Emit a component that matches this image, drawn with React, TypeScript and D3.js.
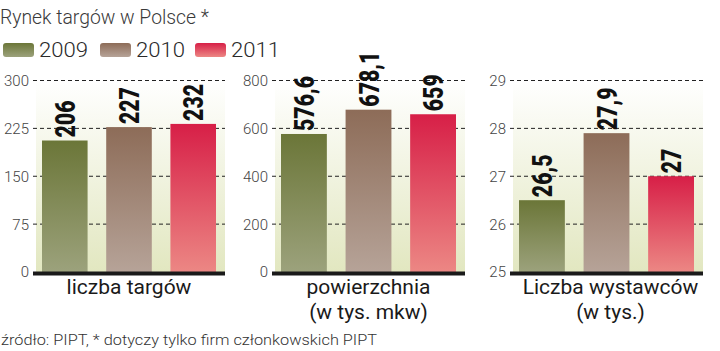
import React from "react";
import * as d3 from "d3";

const years = ["2009", "2010", "2011"];
const panelTitles = [["liczba targów"], ["powierzchnia", "(w tys. mkw)"], ["Liczba wystawców", "(w tys.)"]];
const targi = [206, 227, 232];
const powierzchnia = [576.6, 678.1, 659];
const wystawcy = [26.5, 27.9, 27];
const targiLabels = ["206", "227", "232"];
const powLabels = ["576,6", "678,1", "659"];
const wystLabels = ["26,5", "27,9", "27"];
const targiTicks = [0, 75, 150, 225, 300];
const powTicks = [0, 200, 400, 600, 800];
const wystTicks = [25, 26, 27, 28, 29];
const title = "Rynek targów w Polsce *";
const source = "źródło: PIPT, * dotyczy tylko firm członkowskich PIPT";

const barColors = [
  ["#6b7638", "#9ca27c"],
  ["#8d6c58", "#b6a398"],
  ["#d71f47", "#ec8784"],
];

const panels = [
  { values: targi, labels: targiLabels, ticks: targiTicks, title: panelTitles[0], x0: 33, x1: 225 },
  { values: powierzchnia, labels: powLabels, ticks: powTicks, title: panelTitles[1], x0: 272, x1: 465 },
  { values: wystawcy, labels: wystLabels, ticks: wystTicks, title: panelTitles[2], x0: 510, x1: 703 },
];

const FONT = "Roboto, 'Noto Sans', sans-serif";

export default function App() {
  const W = 720, H = 351;
  const yTop = 80.5, yBot = 272;
  return (
    <svg width={W} height={H} style={{ position: "absolute", left: 0, top: 0, background: "#fff" }} fontFamily={FONT}>
      <defs>
        {barColors.map((c, i) => (
          <linearGradient key={i} id={`bar${i}`} x1="0" y1="0" x2="0" y2="1">
            <stop offset="0" stopColor={c[0]} />
            <stop offset="1" stopColor={c[1]} />
          </linearGradient>
        ))}
        <linearGradient id="bg" x1="0" y1="0" x2="0" y2="1">
          <stop offset="0" stopColor="#ffffff" />
          <stop offset="1" stopColor="#e2e7c0" />
        </linearGradient>
      </defs>

      <text x={0} y={24} fontSize={21} fill="#3a3a3a" fontWeight={300} textLength={209} lengthAdjust="spacingAndGlyphs">{title}</text>

      {years.map((yr, i) => {
        const sx = [3, 100, 195][i];
        return (
          <g key={yr}>
            <rect x={sx} y={43} width={31} height={14} rx={3} fill={`url(#bar${i})`} />
            <text x={sx + 36} y={57} fontSize={21} fill="#2a2a2a" fontWeight={300} textLength={49} lengthAdjust="spacingAndGlyphs">{yr}</text>
          </g>
        );
      })}

      {panels.map((p, pi) => {
        const y = d3.scaleLinear().domain([p.ticks[0], p.ticks[p.ticks.length - 1]]).range([yBot, yTop]);
        const x = d3.scaleBand().domain(years).range([p.x0 + 9, p.x1 - 9]).paddingInner(0.29).paddingOuter(0);
        const cx = (p.x0 + p.x1) / 2 + (pi === 2 ? 4 : 0);
        return (
          <g key={pi}>
            <rect x={p.x0 + 3} y={yTop} width={p.x1 - p.x0 - 3} height={yBot - yTop} fill="url(#bg)" />
            {p.ticks.map((t) => (
              <g key={t}>
                {t !== p.ticks[0] && (
                  <line x1={p.x0} x2={p.x1} y1={y(t)} y2={y(t)} stroke="#222" strokeWidth={1} strokeDasharray="4,3" />
                )}
                <text x={p.x0 - 4} y={y(t)} dy="0.36em" textAnchor="end" fontSize={15} fontWeight={300} fill="#444">{t}</text>
              </g>
            ))}
            {p.values.map((v, i) => (
              <rect key={i} x={x(years[i])} y={y(v)} width={x.bandwidth()} height={yBot - y(v)} fill={`url(#bar${i})`} />
            ))}
            {p.values.map((v, i) => (
              <text
                key={"l" + i}
                transform={`translate(${x(years[i])! + x.bandwidth() / 2},${y(v) - 3}) rotate(-90) scale(0.76,1)`}
                dy="0.36em"
                fontSize={28}
                fontWeight={900}
                fill="#111"
              >
                {p.labels[i]}
              </text>
            ))}
            <line x1={p.x0} x2={p.x1} y1={yBot + 1.5} y2={yBot + 1.5} stroke="#1a1a1a" strokeWidth={4} />
            {p.title.map((t, li) => (
              <text key={li} x={cx} y={294 + li * 25} textAnchor="middle" fontSize={21} fill="#1a1a1a">{t}</text>
            ))}
          </g>
        );
      })}

      <text x={1} y={345} fontSize={14} fill="#333" fontWeight={300} textLength={376} lengthAdjust="spacingAndGlyphs">{source}</text>
    </svg>
  );
}
